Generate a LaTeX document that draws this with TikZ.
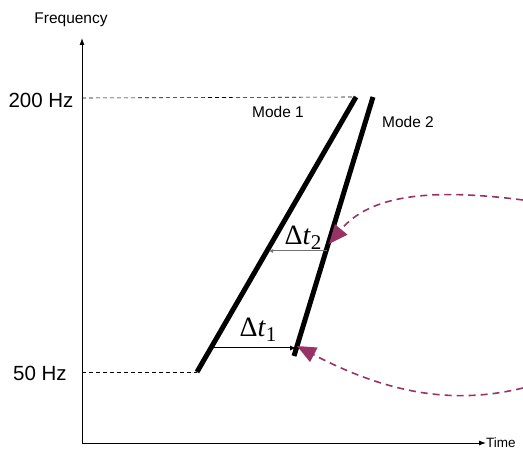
\documentclass[tikz,border=0pt]{standalone}
\usepackage{fontspec}
\setmainfont{Liberation Sans}
\newfontfamily\serifx{Liberation Serif}
\usetikzlibrary{arrows.meta}
\definecolor{plum}{RGB}{153,51,102}
\newcommand{\dtlabel}[1]{{\serifx\fontsize{28}{30}\selectfont \char"0394\textit{t}\raisebox{-5pt}{\fontsize{21}{22}\selectfont #1}}}
\begin{document}
\begin{tikzpicture}[x=1pt,y=-1pt,
  axis/.style={draw=black,line width=0.9pt,-{Latex[length=7pt,width=5pt]}},
  guide/.style={draw=black,dash pattern=on 4pt off 3pt,line width=0.6pt},
  modeline/.style={draw=black,line width=5pt},
  gap/.style={line width=1pt,-{Latex[length=6pt,width=5pt]}},
  pointer/.style={draw=plum,line width=1.6pt,dash pattern=on 7pt off 5pt,-{Triangle[length=19pt,width=16pt,fill=plum,sep=0pt]}},
  lbl/.style={inner sep=0pt,font=\fontsize{15.5}{17}\selectfont},
  hz/.style={inner sep=0pt,font=\fontsize{20.5}{23}\selectfont},
  dt/.style={inner sep=0pt}]
\useasboundingbox (0,0) rectangle (523,449);
% axes
\coordinate (O) at (82,443);
\coordinate (Ytop) at (82,38);
\coordinate (Xend) at (486,443);
\draw[axis] (O) -- (Ytop);
\draw[axis] (O) -- (Xend);
\node[lbl,anchor=west,font=\fontsize{13.5}{15}\selectfont] (time) at (486,443) {Time};
\node[lbl] (freq) at (71,20) {Frequency};
\node[hz] (f200) at (41,100) {200 Hz};
\node[hz] (f50) at (40,373) {50 Hz};
% mode lines
\coordinate (m1a) at (197,372);
\coordinate (m1b) at (356,97);
\coordinate (m2a) at (294,356);
\coordinate (m2b) at (373,97);
\coordinate (y200) at (82,98);
\coordinate (y50) at (82,372);
\draw[guide] (y200) -- (m1b);
\draw[guide] (y50) -- (m1a);
\draw[modeline] (m1a) -- (m1b);
\draw[modeline] (m2a) -- (m2b);
\node[lbl] (mode1) at (278,112) {Mode 1};
\node[lbl] (mode2) at (408,122) {Mode 2};
% delta t arrows
\coordinate (d2a) at (327,251);
\coordinate (d2b) at (269,251);
\coordinate (d1a) at (213,348);
\coordinate (d1b) at (296,348);
\draw[gap,draw=black!55,-{Latex[length=4pt,width=4pt]}] (d2a) -- (d2b);
\draw[gap] (d1a) -- (d1b);
\node[dt] (dt2) at (303,238) {\dtlabel{2}};
\node[dt] (dt1) at (258,330) {\dtlabel{1}};
% dashed pointers
\coordinate (p2s) at (523,200);
\coordinate (p2e) at (329,244);
\coordinate (p1s) at (523,388);
\coordinate (p1e) at (297,346);
\draw[pointer] (p2s) .. controls (430,188) and (370,195) .. (p2e);
\draw[pointer] (p1s) .. controls (465,402) and (400,400) .. (p1e);
\end{tikzpicture}
\end{document}
